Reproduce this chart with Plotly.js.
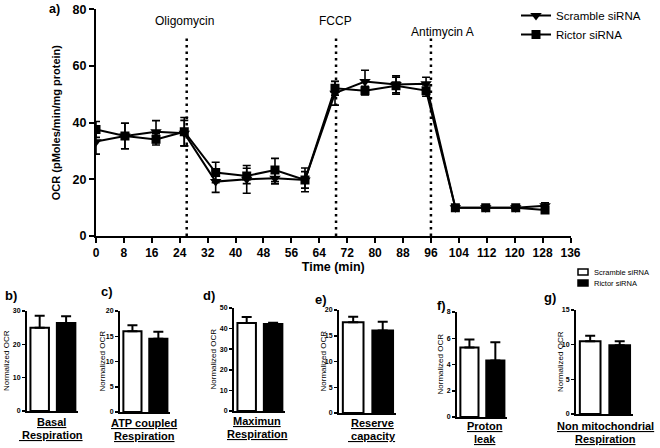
<!DOCTYPE html>
<html>
<head>
<meta charset="utf-8">
<script src="https://cdn.plot.ly/plotly-3.0.1.min.js"></script>
<style>html,body{margin:0;padding:0;background:#fff;}#chart{width:660px;height:448px;}</style>
</head>
<body>
<div id="chart"></div>
<script>
// ---- Data: panel a (OCR time course) ----
const time = [0, 8.3, 17.2, 25.3, 34.3, 43.2, 51.3, 59.9, 68.5, 77.1, 86, 94.6, 103, 111.7, 120.3, 128.7];
const scramble = [33.3, 35.3, 36.8, 36.3, 19.2, 20.0, 20.4, 19.8, 50.4, 54.5, 53.5, 53.7, 10.0, 10.0, 10.0, 10.7];
const scrambleErr = [4.4, 4.5, 3.9, 4.5, 3.8, 4.9, 2.0, 4.2, 4.2, 4.0, 3.0, 2.3, 0.8, 0.6, 0.6, 1.0];
const rictor = [37.6, 35.3, 34.1, 36.8, 22.4, 21.2, 23.3, 19.8, 52.1, 51.3, 53.0, 51.3, 10.0, 10.0, 10.0, 9.2];
const rictorErr = [2.8, 4.5, 2.0, 5.0, 3.6, 2.7, 4.1, 2.9, 2.4, 1.5, 3.0, 2.0, 0.8, 0.6, 0.6, 1.0];
const injections = ['Oligomycin', 'FCCP', 'Antimycin A'];
const injectionTimes = [26, 68.8, 96];
const timeTicks = [0, 8, 16, 24, 32, 40, 48, 56, 64, 72, 80, 88, 96, 104, 112, 120, 128, 136];
const seriesNames = ['Scramble siRNA', 'Rictor siRNA'];

// ---- Data: panels b-g (normalized OCR) ----
const panelLetters = ['b)', 'c)', 'd)', 'e)', 'f)', 'g)'];
const panelLabels = [['Basal', ' Respiration'], ['ATP coupled', 'Respiration'], ['Maximun', 'Respiration'], ['Reserve', ' capacity'], ['Proton', 'leak'], ['Non mitochondrial', 'Respiration']];
const scrambleBar = [25.0, 16.0, 42.7, 17.6, 5.3, 10.5];
const scrambleBarErr = [3.6, 1.2, 2.9, 1.1, 0.6, 0.8];
const rictorBar = [26.4, 14.5, 42.2, 16.0, 4.3, 9.9];
const rictorBarErr = [2.0, 1.4, 0.6, 1.7, 1.4, 0.6];
const barYMax = [30, 20, 50, 20, 8, 15];
const barYStep = [10, 5, 10, 5, 2, 5];

// ---- Geometry helpers ----
const W = 660, H = 448;
const px = v => v / W;
const py = v => 1 - v / H;
const FONT = 'Liberation Sans, Arial, sans-serif';

// panel pixel geometry
const geo = [
  {x0: 27, x1: 78, top: 311, bot: 411, lx: 11, ly: 295, tx: 6, cx: 51, l1: 422, l2: 435},
  {x0: 120, x1: 170, top: 311, bot: 412, lx: 107, ly: 291, tx: 102, cx: 144, l1: 423, l2: 436},
  {x0: 234, x1: 285, top: 308, bot: 411, lx: 209, ly: 295, tx: 213, cx: 257, l1: 421, l2: 434},
  {x0: 339, x1: 396, top: 310, bot: 413, lx: 321, ly: 299, tx: 323, cx: 372, l1: 423, l2: 436},
  {x0: 457, x1: 507, top: 312, bot: 417, lx: 441, ly: 305, tx: 440, cx: 485, l1: 426, l2: 439},
  {x0: 576, x1: 633, top: 310, bot: 414, lx: 550, ly: 297, tx: 560, cx: 605, l1: 426, l2: 439}
];

const traces = [];
traces.push({
  x: time, y: scramble, name: seriesNames[0], type: 'scatter', mode: 'lines+markers',
  line: {color: '#000', width: 2},
  marker: {symbol: 'triangle-down', size: 10, color: '#000'},
  error_y: {type: 'data', array: scrambleErr, visible: true, color: '#000', thickness: 1.6, width: 4},
  xaxis: 'x', yaxis: 'y'
});
traces.push({
  x: time, y: rictor, name: seriesNames[1], type: 'scatter', mode: 'lines+markers',
  line: {color: '#000', width: 2},
  marker: {symbol: 'square', size: 9, color: '#000'},
  error_y: {type: 'data', array: rictorErr, visible: true, color: '#000', thickness: 1.6, width: 4},
  xaxis: 'x', yaxis: 'y'
});

const layout = {
  width: W, height: H,
  margin: {l: 0, r: 0, t: 0, b: 0},
  paper_bgcolor: '#fff', plot_bgcolor: 'rgba(0,0,0,0)',
  font: {family: FONT, color: '#000'},
  showlegend: true,
  legend: {x: px(516), y: py(1), xanchor: 'left', yanchor: 'top', bgcolor: 'rgba(0,0,0,0)',
           font: {size: 11.5, family: FONT, color: '#000'}, tracegroupgap: 0, itemwidth: 30},
  xaxis: {
    domain: [px(96), px(570.5)], anchor: 'y', range: [0, 136], tickvals: timeTicks,
    ticks: 'outside', ticklen: 5, tickwidth: 2, tickcolor: '#000',
    showline: true, linewidth: 2, linecolor: '#000', showgrid: false, zeroline: false,
    tickfont: {size: 12, family: FONT, weight: 'bold'},
    title: {text: 'Time (min)', font: {size: 12.5, family: FONT, weight: 'bold'}, standoff: 0}
  },
  yaxis: {
    domain: [py(236), py(9.3)], anchor: 'x', range: [0, 80], dtick: 20,
    ticks: 'outside', ticklen: 5, tickwidth: 2, tickcolor: '#000',
    showline: true, linewidth: 2, linecolor: '#000', showgrid: false, zeroline: false,
    tickfont: {size: 12.5, family: FONT, weight: 'bold'},
    title: {text: 'OCR (pMoles/min/mg protein)', font: {size: 11, family: FONT, weight: 'bold'}, standoff: 10}
  },
  shapes: [],
  annotations: []
};

// vertical injection lines + labels
const labelPos = [[185, 21], [336, 21], [442, 32]];
injectionTimes.forEach((t, i) => {
  layout.shapes.push({type: 'line', xref: 'x', yref: 'y', x0: t, x1: t, y0: 0, y1: 71,
    line: {color: '#000', width: 2.5, dash: '2.5px,4px'}});
  layout.annotations.push({text: injections[i], xref: 'paper', yref: 'paper',
    x: px(labelPos[i][0]), y: py(labelPos[i][1]), xanchor: 'center', yanchor: 'middle',
    showarrow: false, font: {size: 12, family: FONT}});
});
layout.annotations.push({text: '<b>a)</b>', xref: 'paper', yref: 'paper', x: px(54), y: py(9),
  xanchor: 'center', yanchor: 'middle', showarrow: false, font: {size: 12.5, family: FONT}});

// bar panels
geo.forEach((g, i) => {
  const n = i + 2;
  traces.push({
    type: 'bar', x: [0, 1], y: [scrambleBar[i], rictorBar[i]], width: 0.7,
    marker: {color: ['#fff', '#000'], line: {color: '#000', width: 2}},
    error_y: {type: 'data', symmetric: false, array: [scrambleBarErr[i], rictorBarErr[i]], arrayminus: [0, 0],
              visible: true, color: '#000', thickness: 2, width: 5},
    xaxis: 'x' + n, yaxis: 'y' + n, showlegend: false, hoverinfo: 'y'
  });
  layout['xaxis' + n] = {
    domain: [px(g.x0), px(g.x1)], anchor: 'y' + n, range: [-0.48, 1.45],
    showline: true, linewidth: 2, linecolor: '#000', showticklabels: false, ticks: '',
    showgrid: false, zeroline: false
  };
  layout['yaxis' + n] = {
    domain: [py(g.bot), py(g.top)], anchor: 'x' + n, range: [0, barYMax[i]], dtick: barYStep[i],
    ticks: 'outside', ticklen: 3, tickwidth: 1.5, tickcolor: '#000',
    showline: true, linewidth: 2, linecolor: '#000', showgrid: false, zeroline: false,
    tickfont: {size: 7, family: FONT, weight: 'bold'}
  };
  layout.annotations.push({text: '<b>' + panelLetters[i] + '</b>', xref: 'paper', yref: 'paper',
    x: px(g.lx), y: py(g.ly), xanchor: 'center', yanchor: 'middle', showarrow: false,
    font: {size: 13, family: FONT}});
  layout.annotations.push({text: 'Normalized OCR', xref: 'paper', yref: 'paper', textangle: -90,
    x: px(g.tx), y: py((g.top + g.bot) / 2), xanchor: 'center', yanchor: 'middle', showarrow: false,
    font: {size: 8, family: FONT}});
  layout.annotations.push({text: '<b><u>' + panelLabels[i][0] + '</u></b>', xref: 'paper', yref: 'paper',
    x: px(g.cx), y: py(g.l1), xanchor: 'center', yanchor: 'middle', showarrow: false,
    font: {size: 11, family: FONT}});
  layout.annotations.push({text: '<b><u>' + panelLabels[i][1] + '</u></b>', xref: 'paper', yref: 'paper',
    x: px(g.cx), y: py(g.l2), xanchor: 'center', yanchor: 'middle', showarrow: false,
    font: {size: 11, family: FONT}});
});

// small legend for bar panels
layout.shapes.push({type: 'rect', xref: 'paper', yref: 'paper', x0: px(578), x1: px(588), y0: py(275), y1: py(269),
  fillcolor: '#fff', line: {color: '#000', width: 1.5}});
layout.shapes.push({type: 'rect', xref: 'paper', yref: 'paper', x0: px(578), x1: px(588), y0: py(286), y1: py(280),
  fillcolor: '#000', line: {color: '#000', width: 1.5}});
layout.annotations.push({text: seriesNames[0], xref: 'paper', yref: 'paper', x: px(592), y: py(272),
  xanchor: 'left', yanchor: 'middle', showarrow: false, font: {size: 7.5, family: FONT}});
layout.annotations.push({text: seriesNames[1], xref: 'paper', yref: 'paper', x: px(592), y: py(283),
  xanchor: 'left', yanchor: 'middle', showarrow: false, font: {size: 7.5, family: FONT}});

Plotly.newPlot('chart', traces, layout, {staticPlot: true, displayModeBar: false});
</script>
</body>
</html>
